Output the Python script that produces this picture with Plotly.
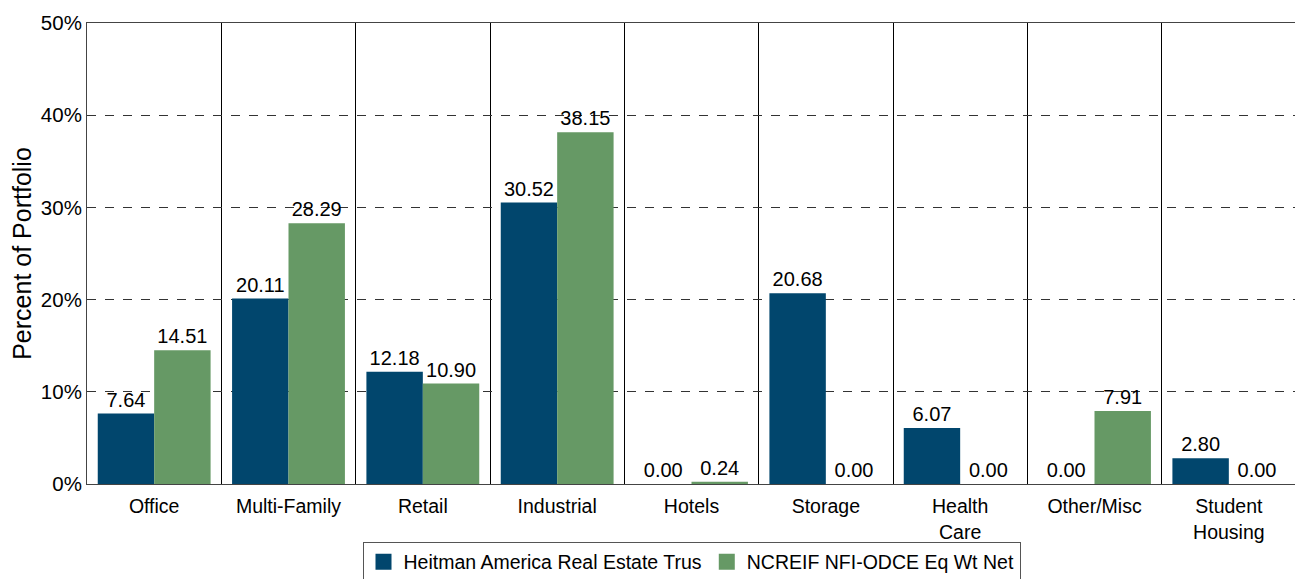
import plotly.graph_objects as go

categories = ["Office", "Multi-Family", "Retail", "Industrial", "Hotels", "Storage",
              "Health<br>Care", "Other/Misc", "Student<br>Housing"]
heitman = [7.64, 20.11, 12.18, 30.52, 0.00, 20.68, 6.07, 0.00, 2.80]
ncreif = [14.51, 28.29, 10.90, 38.15, 0.24, 0.00, 0.00, 7.91, 0.00]
series_names = ["Heitman America Real Estate Trus", "NCREIF NFI-ODCE Eq Wt Net"]
colors = ["#01466D", "#669965"]
y_ticks = [0, 10, 20, 30, 40, 50]
y_tick_labels = [f"{v}%" for v in y_ticks]

FONT = "Liberation Sans, Arial, sans-serif"

fig = go.Figure()
for name, vals, col in zip(series_names, [heitman, ncreif], colors):
    fig.add_trace(go.Bar(
        x=categories, y=vals, name=name, marker=dict(color=col, line=dict(width=0)),
        text=[f"{v:.2f}" for v in vals], textposition="outside",
        textfont=dict(size=20, color="#000000", family=FONT),
        cliponaxis=False, showlegend=False,
    ))
# legend entries with larger square swatches
for name, col in zip(series_names, colors):
    fig.add_trace(go.Scatter(
        x=[None], y=[None], mode="markers", name=name,
        marker=dict(symbol="square", size=20, color=col),
    ))

fig.update_layout(
    barmode="group", bargap=0.16, bargroupgap=0,
    width=1303, height=579,
    margin=dict(l=79, r=15, t=15, b=103, autoexpand=False),
    plot_bgcolor="white", paper_bgcolor="white",
    font=dict(family=FONT, size=20, color="#000000"),
    legend=dict(orientation="h", x=0.5, xanchor="center", y=-0.125, yanchor="top",
                bordercolor="#555555", borderwidth=1, font=dict(size=19.5, family=FONT),
                itemsizing="trace", itemwidth=30, tracegroupgap=0),
    xaxis=dict(tickson="boundaries", showgrid=True, gridcolor="#000000", gridwidth=1,
               ticks="", showline=True, linecolor="#444444", mirror=True,
               tickfont=dict(size=19.5, family=FONT), automargin=False,
               ticklabelstandoff=5),
    yaxis=dict(range=[0, 50], tickvals=y_ticks, ticktext=y_tick_labels, showgrid=True,
               gridcolor="#333333", griddash="dash", gridwidth=1, zeroline=False,
               showline=True, linecolor="#444444", mirror=True, ticks="",
               tickfont=dict(size=20.5, family=FONT), automargin=False,
               ticklabeloverflow="allow",
               title=dict(text="Percent of Portfolio", font=dict(size=25, family=FONT), standoff=12)),
)

fig.write_html("out.html")
